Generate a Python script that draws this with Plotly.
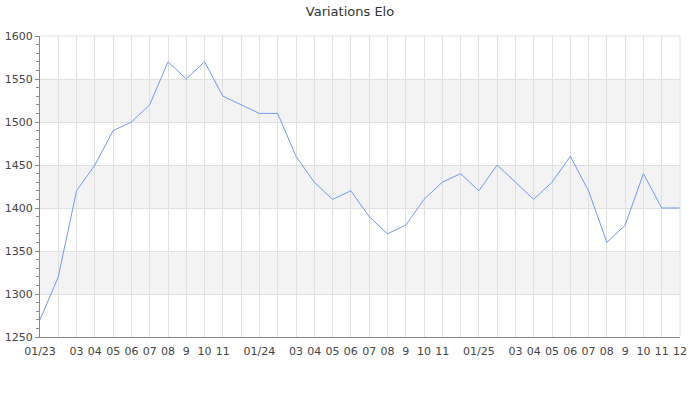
import plotly.graph_objects as go

months = list(range(36))
tick_labels = ["01/23", "", "03", "04", "05", "06", "07", "08", "9", "10", "11", "",
               "01/24", "", "03", "04", "05", "06", "07", "08", "9", "10", "11", "",
               "01/25", "", "03", "04", "05", "06", "07", "08", "9", "10", "11", "12"]
elo = [1270, 1320, 1420, 1450, 1490, 1500, 1520, 1570, 1550, 1570, 1530, 1520,
       1510, 1510, 1460, 1430, 1410, 1420, 1390, 1370, 1380, 1410, 1430, 1440,
       1420, 1450, 1430, 1410, 1430, 1460, 1420, 1360, 1380, 1440, 1400, 1400]
bands = [(1300, 1350), (1400, 1450), (1500, 1550)]

fig = go.Figure()
fig.add_trace(go.Scatter(x=months, y=elo, mode="lines",
                         line=dict(color="#6d9bf1", width=1), hoverinfo="x+y"))

for lo, hi in bands:
    fig.add_shape(type="rect", xref="paper", yref="y", x0=0, x1=1, y0=lo, y1=hi,
                  fillcolor="#f3f3f3", line=dict(width=0), layer="below")

fig.update_layout(
    width=700, height=400,
    margin=dict(l=40, r=20, t=36, b=63, autoexpand=False),
    paper_bgcolor="white", plot_bgcolor="white",
    showlegend=False,
    title=dict(text="Variations Elo", x=0.5, xanchor="center", y=0.982, yanchor="top",
               font=dict(family="DejaVu Sans", size=13, color="#333")),
    font=dict(family="DejaVu Sans", size=11, color="#444"),
)
fig.update_xaxes(range=[0, 35], tickmode="array", tickvals=months, ticktext=tick_labels,
                 showgrid=True, gridcolor="#e0e0e0", gridwidth=1,
                 showline=True, linecolor="#888", linewidth=1, automargin=False,
                 ticks="", tickangle=0, zeroline=False, mirror=False, ticklabelstandoff=4,
                 tickfont=dict(size=11, color="#444"))
fig.update_yaxes(range=[1250, 1600], tickmode="linear", tick0=1250, dtick=50,
                 showgrid=True, gridcolor="#e0e0e0", gridwidth=1,
                 showline=True, linecolor="#888", linewidth=1, automargin=False,
                 ticks="outside", ticklen=4, tickcolor="#888",
                 minor=dict(dtick=10, ticks="outside", ticklen=3, tickcolor="#888", showgrid=False),
                 zeroline=False, tickfont=dict(size=11, color="#444"))
# right and top borders as gridlines
fig.add_shape(type="line", xref="paper", yref="paper", x0=1, x1=1, y0=0, y1=1,
              line=dict(color="#e0e0e0", width=1))
fig.add_shape(type="line", xref="paper", yref="paper", x0=0, x1=1, y0=1, y1=1,
              line=dict(color="#e0e0e0", width=1))

fig.write_html("out.html", config={"displayModeBar": False},
               post_script="document.body.style.margin='0';")
